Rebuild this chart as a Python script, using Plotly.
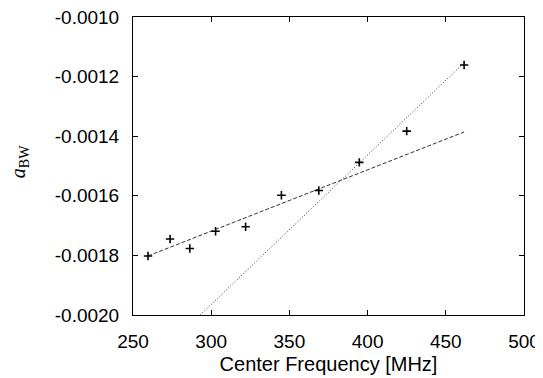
import plotly.graph_objects as go

# Measured data points
freq_mhz = [259.6, 273.7, 286.3, 302.8, 322.0, 344.9, 368.8, 394.7, 425.0, 461.7]
a_bw = [-0.001802, -0.001745, -0.001777, -0.001719, -0.001704,
        -0.001598, -0.001582, -0.001488, -0.001383, -0.001161]

# Linear fits: slope [1/MHz], intercept
fit_all_slope = 2.058e-6
fit_all_intercept = -0.002336
fit_steep_slope = 5.015e-6
fit_steep_intercept = -0.003469
fit_x_range = [259.6, 461.7]

x_ticks = [250, 300, 350, 400, 450, 500]
y_ticks = [-0.0020, -0.0018, -0.0016, -0.0014, -0.0012, -0.0010]

fit_all_y = [fit_all_slope * x + fit_all_intercept for x in fit_x_range]
fit_steep_y = [fit_steep_slope * x + fit_steep_intercept for x in fit_x_range]

fig = go.Figure()
fig.add_trace(go.Scatter(x=fit_x_range, y=fit_all_y, mode="lines",
                         line=dict(color="#333333", width=1, dash="4px,2px"),
                         showlegend=False))
fig.add_trace(go.Scatter(x=fit_x_range, y=fit_steep_y, mode="lines",
                         line=dict(color="#333333", width=1, dash="1px,2px"),
                         showlegend=False))
fig.add_trace(go.Scatter(x=freq_mhz, y=a_bw, mode="markers",
                         marker=dict(symbol="cross-thin", size=6,
                                     line=dict(color="black", width=1.6)),
                         showlegend=False))

axis_common = dict(showgrid=False, zeroline=False, showline=True, mirror="ticks",
                   linecolor="black", linewidth=1, ticks="inside", ticklen=5,
                   tickcolor="black", tickwidth=1, automargin=False,
                   ticklabeloverflow="allow",
                   tickfont=dict(family="Liberation Sans, Arial, sans-serif",
                                 size=19, color="black"))

# The page body adds an 8px offset, so the figure is sized to fit the window.
fig.update_layout(
    autosize=False,
    width=535, height=370,
    margin=dict(l=125, r=19, t=9, b=63),
    plot_bgcolor="white", paper_bgcolor="white",
    xaxis=dict(range=[250, 500], tickvals=x_ticks,
               ticktext=[str(v) for v in x_ticks],
               ticklabelstandoff=9,
               title=dict(text="Center Frequency [MHz]", standoff=6,
                          font=dict(family="Liberation Sans, Arial, sans-serif",
                                    size=20, color="black")),
               **axis_common),
    yaxis=dict(range=[-0.0020, -0.0010], tickvals=y_ticks,
               ticktext=["%.4f" % v for v in y_ticks],
               ticklabelstandoff=9,
               **axis_common),
    annotations=[dict(text="<i>a</i><sub>BW</sub>", xref="paper", yref="paper",
                      x=-0.290, y=0.515, xanchor="center", yanchor="middle",
                      textangle=-90, showarrow=False,
                      font=dict(family="Liberation Serif, Times New Roman, serif",
                                size=20, color="black"))],
)

fig.write_html("out.html")
